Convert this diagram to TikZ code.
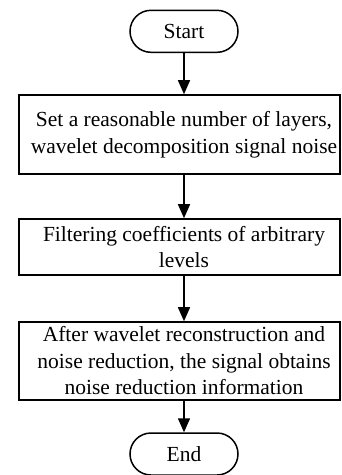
\documentclass[tikz,border=0pt]{standalone}
\usepackage{fontspec}
\setmainfont{Liberation Serif}
\usetikzlibrary{arrows.meta,shapes.misc}
\begin{document}
\begin{tikzpicture}[x=1pt,y=-1pt,
  term/.style={draw, line width=1.5pt, rounded rectangle, minimum width=108pt, minimum height=42pt, inner sep=0pt, font=\fontsize{21.5}{26.5}\selectfont},
  procbox/.style={draw, line width=1.6pt, minimum width=321pt, inner sep=0pt},
  txt/.style={align=center, inner sep=0pt, font=\fontsize{21.5}{26.5}\selectfont},
  arr/.style={line width=1.5pt, -{Triangle[length=14pt, width=12pt]}}
]
\useasboundingbox (0,0) rectangle (341,475);
\node[term] (start) at (184,31.3) {Start};
\node[procbox, minimum height=79pt] (b1) at (179.5,134.5) {};
\node[txt] (t1) at (184,134.5) {Set a reasonable number of layers,\\wavelet decomposition signal noise};
\node[procbox, minimum height=56pt] (b2) at (179.5,247) {};
\node[txt] (t2) at (184,247) {Filtering coefficients of arbitrary\\levels};
\node[procbox, minimum height=78pt] (b3) at (179.5,361) {};
\node[txt] (t3) at (184,361) {After wavelet reconstruction and\\noise reduction, the signal obtains\\noise reduction information};
\node[term] (end) at (184,454) {End};
\draw[arr] (start.south) -- (start.south |- b1.north);
\draw[arr] (start.south |- b1.south) -- (start.south |- b2.north);
\draw[arr] (start.south |- b2.south) -- (start.south |- b3.north);
\draw[arr] (start.south |- b3.south) -- (end.north);
\end{tikzpicture}
\end{document}
